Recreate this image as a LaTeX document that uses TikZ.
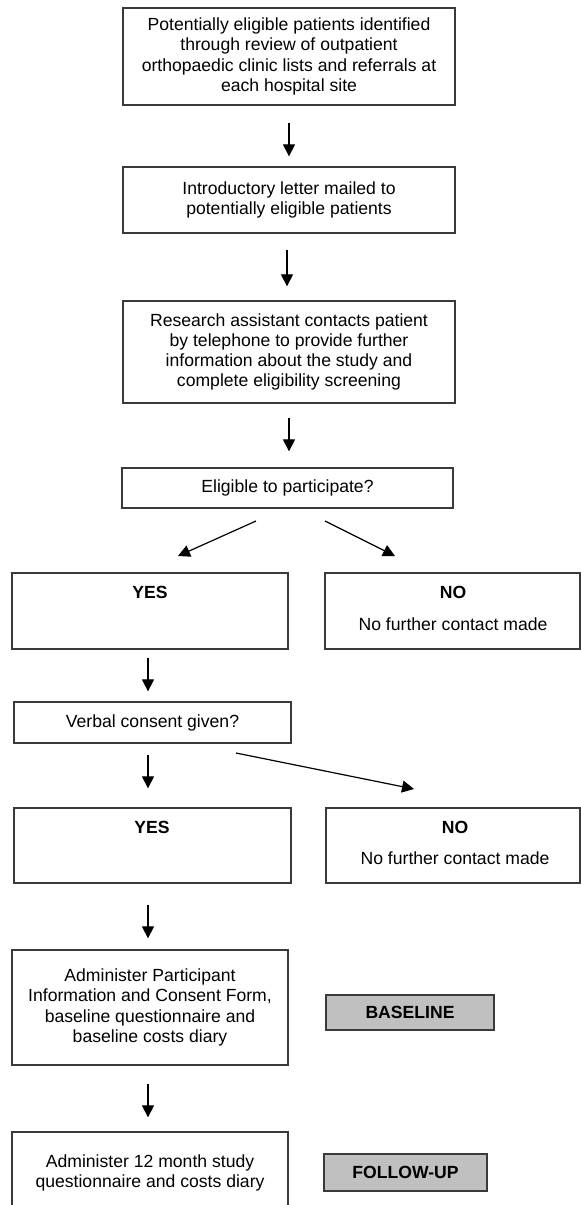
\documentclass[tikz,border=0pt]{standalone}
\usepackage{fontspec}
\setmainfont{Liberation Sans}
\usetikzlibrary{arrows.meta}
\definecolor{linec}{HTML}{3A3A3A}
\definecolor{grayf}{HTML}{C0C0C0}
\newcommand{\fs}{\fontsize{17.6}{20.2}\selectfont}
\begin{document}
\begin{tikzpicture}[x=1pt,y=-1pt,
  box/.style={draw=linec, line width=1.3pt, inner sep=0pt, align=center, font=\fs},
  gbox/.style={box, fill=grayf, font=\fs\bfseries},
  lbl/.style={inner sep=0pt, font=\fs},
  blbl/.style={inner sep=0pt, font=\fs\bfseries},
  arr/.style={draw=black, line width=1.2pt, -{Triangle[length=12pt,width=12pt]}}]
\useasboundingbox (0,0) rectangle (581,1205);
\fill[white] (0,0) rectangle (581,1205);
\clip (0,0) rectangle (581,1205);

\node[box, minimum width=332pt, minimum height=97pt] (b1) at (289,56.5)
  {Potentially eligible patients identified\\through review of outpatient\\orthopaedic clinic lists and referrals at\\each hospital site};
\node[box, minimum width=332pt, minimum height=66pt] (b2) at (289,200)
  {Introductory letter mailed to\\potentially eligible patients};
\node[box, minimum width=332pt, minimum height=102pt] (b3) at (289,352)
  {Research assistant contacts patient\\by telephone to provide further\\information about the study and\\complete eligibility screening};
\node[box, minimum width=331pt, minimum height=40pt] (elig) at (287.5,488)
  {Eligible to participate?};
\node[box, minimum width=276pt, minimum height=76pt] (yes1) at (150,611) {};
\node[box, minimum width=255pt, minimum height=76pt] (no1) at (452.5,611) {};
\node[box, minimum width=277pt, minimum height=41pt] (verbal) at (152.5,722.5)
  {Verbal consent given?};
\node[box, minimum width=277pt, minimum height=75pt] (yes2) at (152.5,845.5) {};
\node[box, minimum width=254pt, minimum height=75pt] (no2) at (453,845.5) {};
\node[box, minimum width=276pt, minimum height=115pt] (adm1) at (150,1007.5)
  {Administer Participant\\Information and Consent Form,\\baseline questionnaire and\\baseline costs diary};
\node[gbox, minimum width=168pt, minimum height=35pt] (base) at (410,1012.5) {BASELINE};
\node[box, minimum width=276pt, minimum height=82pt] (adm2) at (150,1173)
  {Administer 12 month study\\questionnaire and costs diary};
\node[gbox, minimum width=163pt, minimum height=37pt] (fup) at (405.5,1172.5) {FOLLOW-UP};

\node[blbl] (yes1t) at (150,592) {YES};
\node[blbl] (no1t) at (453,592) {NO};
\node[lbl] (no1s) at (453,624) {No further contact made};
\node[blbl] (yes2t) at (152,827) {YES};
\node[blbl] (no2t) at (455,827) {NO};
\node[lbl] (no2s) at (455,858) {No further contact made};

\coordinate (dl0) at (256,521);
\coordinate (dl1) at (178,556);
\coordinate (dr0) at (325,521);
\coordinate (dr1) at (395,556);
\coordinate (vn0) at (236,753);
\coordinate (vn1) at (414,789);

\draw[arr, shorten <=17pt, shorten >=10pt] (b1.south) -- (b2.north);
\draw[arr, shorten <=16pt, shorten >=14pt] ([xshift=-2pt]b2.south) -- ([xshift=-2pt]b2.south |- b3.north);
\draw[arr, shorten <=14pt, shorten >=16pt] (b3.south) -- (b3.south |- elig.north);
\draw[arr] (dl0) -- (dl1);
\draw[arr] (dr0) -- (dr1);
\draw[arr, shorten <=8pt, shorten >=10pt] ([xshift=-2pt]yes1.south) -- ([xshift=-2pt]yes1.south |- verbal.north);
\draw[arr, shorten <=11pt, shorten >=19pt] ([xshift=-4.5pt]verbal.south) -- ([xshift=-4.5pt]verbal.south |- yes2.north);
\draw[arr] (vn0) -- (vn1);
\draw[arr, shorten <=21pt, shorten >=11pt] ([xshift=-4.5pt]yes2.south) -- ([xshift=-4.5pt]yes2.south |- adm1.north);
\draw[arr, shorten <=18pt, shorten >=14pt] ([xshift=-2pt]adm1.south) -- ([xshift=-2pt]adm1.south |- adm2.north);
\end{tikzpicture}
\end{document}
